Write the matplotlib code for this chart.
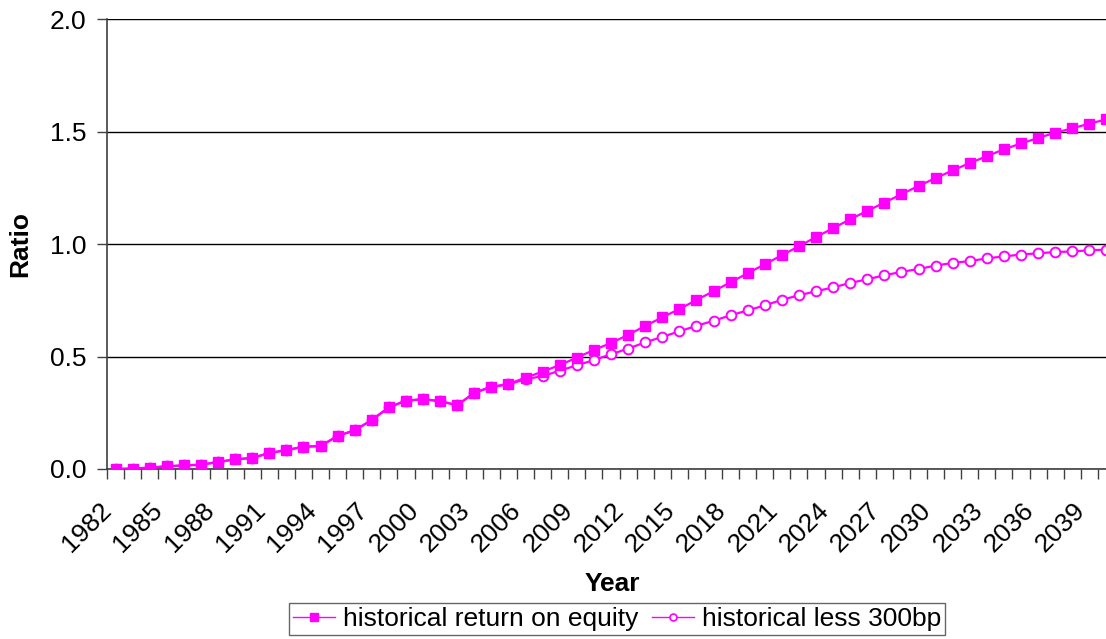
import numpy as np
import matplotlib
matplotlib.use("Agg")
import matplotlib.pyplot as plt
import matplotlib.transforms as mtransforms
from matplotlib.lines import Line2D

plt.rcParams['font.family'] = ['Liberation Sans', 'DejaVu Sans']

# data
years = list(range(1982, 2041))
roe = [0.000, 0.002, 0.006, 0.012, 0.016, 0.019, 0.031, 0.043, 0.049, 0.071,
       0.084, 0.099, 0.102, 0.147, 0.172, 0.218, 0.274, 0.304, 0.310, 0.302,
       0.283, 0.339, 0.365, 0.378, 0.406, 0.433, 0.462, 0.495, 0.529, 0.560,
       0.596, 0.636, 0.674, 0.711, 0.751, 0.790, 0.830, 0.870, 0.910, 0.950,
       0.990, 1.031, 1.070, 1.110, 1.147, 1.184, 1.221, 1.258, 1.293, 1.327,
       1.360, 1.390, 1.421, 1.447, 1.471, 1.495, 1.514, 1.535, 1.554]
less300 = [0.000, 0.002, 0.006, 0.012, 0.016, 0.019, 0.031, 0.043, 0.049, 0.071,
           0.084, 0.099, 0.102, 0.147, 0.172, 0.218, 0.274, 0.304, 0.310, 0.302,
           0.283, 0.339, 0.365, 0.376, 0.399, 0.413, 0.437, 0.461, 0.484, 0.510,
           0.535, 0.563, 0.587, 0.612, 0.636, 0.659, 0.683, 0.705, 0.727, 0.752,
           0.772, 0.790, 0.807, 0.827, 0.843, 0.861, 0.876, 0.889, 0.904, 0.916,
           0.924, 0.936, 0.945, 0.953, 0.959, 0.964, 0.967, 0.972, 0.975]
label_names = ["historical return on equity", "historical less 300bp"]
yticks = [0.0, 0.5, 1.0, 1.5, 2.0]

W, H = 1106, 639
FS = 19
fig = plt.figure(figsize=(W / 100, H / 100), dpi=100)
# plot area runs a bit past the right edge, like the original
ax = fig.add_axes([107 / W, 1 - 469 / H, 1008 / W, 450 / H])

col = '#FF00FF'
x = np.arange(len(years))
ax.plot(x, roe, color=col, lw=1.6, marker='s', ms=7.5, mec=col, mfc=col,
        zorder=4)
ax.plot(x, less300, color=col, lw=1.6, marker='o', ms=7, mec=col,
        mfc='white', mew=1.4, zorder=3)

ax.set_xlim(-0.5, len(years) - 0.5)
ax.set_ylim(0, 2.0)
ax.set_yticks(yticks)
ax.set_yticklabels([f"{v:.1f}" for v in yticks], fontsize=FS)
ax.yaxis.grid(True, color='black', lw=1)
ax.set_axisbelow(True)

for s in ['top', 'right']:
    ax.spines[s].set_visible(False)
for s in ['left', 'bottom']:
    ax.spines[s].set_color('#404040')
    ax.spines[s].set_linewidth(1.2)

ax.tick_params(axis='y', length=7, width=1, color='#404040', pad=8)

# tick marks between categories, labels every 3rd year
ax.set_xticks(np.arange(len(years) + 1) - 0.5, minor=True)
ax.tick_params(axis='x', which='minor', length=7, width=1, color='#404040')
lab_idx = x[::3]
ax.set_xticks(lab_idx)
ax.set_xticklabels([str(years[i]) for i in lab_idx], fontsize=FS,
                   rotation=45, ha='right', va='center', rotation_mode='anchor')
ax.tick_params(axis='x', which='major', length=0, pad=27)
off = mtransforms.ScaledTranslation(-8 / 100, 0, fig.dpi_scale_trans)
for t in ax.get_xticklabels():
    t.set_transform(t.get_transform() + off)

fig.text(20 / W, 1 - 244 / H, "Ratio", rotation=90, fontsize=FS,
         fontweight='bold', ha='center', va='center')
fig.text(612 / W, 1 - 584 / H, "Year", fontsize=FS, fontweight='bold',
         ha='center', va='center')

# legend keys are drawn smaller than the plotted markers
h1 = Line2D([], [], color=col, lw=1, marker='s', ms=5.5, mec=col, mfc=col)
h2 = Line2D([], [], color=col, lw=1, marker='o', ms=5, mec=col, mfc='white',
            mew=1.2)
leg = fig.legend(handles=[h1, h2], labels=label_names, loc='center', ncol=2,
                 bbox_to_anchor=(617 / W, 1 - 619 / H), fontsize=FS,
                 frameon=True, fancybox=False, edgecolor='#404040',
                 handlelength=1.6, handletextpad=0.3, columnspacing=0.5,
                 borderpad=0.15, borderaxespad=0)
leg.get_frame().set_linewidth(1)

fig.savefig("out.png", dpi=100)
